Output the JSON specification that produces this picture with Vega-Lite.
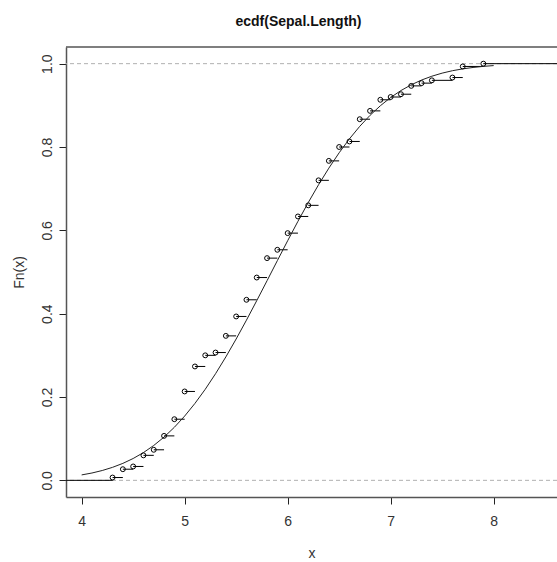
{
  "$schema": "https://vega.github.io/schema/vega-lite/v6.json",
  "autosize": {"type": "none"},
  "width": 491,
  "height": 450,
  "padding": {"left": 66, "top": 47, "right": 0, "bottom": 65},
  "background": "white",
  "config": {
    "view": {"stroke": null},
    "font": "Liberation Sans",
    "axis": {
      "grid": false,
      "domainColor": "#555",
      "domainWidth": 1.5,
      "tickColor": "#222",
      "tickSize": 7,
      "labelFont": "Liberation Sans",
      "labelFontSize": 14,
      "labelColor": "#333",
      "titleFont": "Liberation Sans",
      "titleFontSize": 14,
      "titleFontWeight": "normal",
      "titleColor": "#333"
    }
  },
  "title": {
    "text": "ecdf(Sepal.Length)",
    "font": "Liberation Sans",
    "fontSize": 14,
    "fontWeight": "bold",
    "color": "#111",
    "anchor": "middle",
    "baseline": "alphabetic",
    "offset": 6,
    "dx": -13
  },
  "datasets": {
    "steps": [
      {"x": 3.7, "x2": 4.3, "y": 0},
      {"x": 4.3, "x2": 4.4, "y": 0.0067},
      {"x": 4.4, "x2": 4.5, "y": 0.0267},
      {"x": 4.5, "x2": 4.6, "y": 0.0333},
      {"x": 4.6, "x2": 4.7, "y": 0.06},
      {"x": 4.7, "x2": 4.8, "y": 0.0733},
      {"x": 4.8, "x2": 4.9, "y": 0.1067},
      {"x": 4.9, "x2": 5.0, "y": 0.1467},
      {"x": 5.0, "x2": 5.1, "y": 0.2133},
      {"x": 5.1, "x2": 5.2, "y": 0.2733},
      {"x": 5.2, "x2": 5.3, "y": 0.3},
      {"x": 5.3, "x2": 5.4, "y": 0.3067},
      {"x": 5.4, "x2": 5.5, "y": 0.3467},
      {"x": 5.5, "x2": 5.6, "y": 0.3933},
      {"x": 5.6, "x2": 5.7, "y": 0.4333},
      {"x": 5.7, "x2": 5.8, "y": 0.4867},
      {"x": 5.8, "x2": 5.9, "y": 0.5333},
      {"x": 5.9, "x2": 6.0, "y": 0.5533},
      {"x": 6.0, "x2": 6.1, "y": 0.5933},
      {"x": 6.1, "x2": 6.2, "y": 0.6333},
      {"x": 6.2, "x2": 6.3, "y": 0.66},
      {"x": 6.3, "x2": 6.4, "y": 0.72},
      {"x": 6.4, "x2": 6.5, "y": 0.7667},
      {"x": 6.5, "x2": 6.6, "y": 0.8},
      {"x": 6.6, "x2": 6.7, "y": 0.8133},
      {"x": 6.7, "x2": 6.8, "y": 0.8667},
      {"x": 6.8, "x2": 6.9, "y": 0.8867},
      {"x": 6.9, "x2": 7.0, "y": 0.9133},
      {"x": 7.0, "x2": 7.1, "y": 0.92},
      {"x": 7.1, "x2": 7.2, "y": 0.9267},
      {"x": 7.2, "x2": 7.3, "y": 0.9467},
      {"x": 7.3, "x2": 7.4, "y": 0.9533},
      {"x": 7.4, "x2": 7.6, "y": 0.96},
      {"x": 7.6, "x2": 7.7, "y": 0.9667},
      {"x": 7.7, "x2": 7.9, "y": 0.9933},
      {"x": 7.9, "x2": 8.8, "y": 1.0}
    ],
    "curve": [
      {"x": 4.0, "p": 0.0130}, {"x": 4.1, "p": 0.0176}, {"x": 4.2, "p": 0.0236},
      {"x": 4.3, "p": 0.0312}, {"x": 4.4, "p": 0.0407}, {"x": 4.5, "p": 0.0524},
      {"x": 4.6, "p": 0.0666}, {"x": 4.7, "p": 0.0837}, {"x": 4.8, "p": 0.1038},
      {"x": 4.9, "p": 0.1273}, {"x": 5.0, "p": 0.1542}, {"x": 5.1, "p": 0.1847},
      {"x": 5.2, "p": 0.2186}, {"x": 5.3, "p": 0.2559}, {"x": 5.4, "p": 0.2962},
      {"x": 5.5, "p": 0.3392}, {"x": 5.6, "p": 0.3845}, {"x": 5.7, "p": 0.4313},
      {"x": 5.8, "p": 0.4791}, {"x": 5.9, "p": 0.5273}, {"x": 6.0, "p": 0.5750},
      {"x": 6.1, "p": 0.6217}, {"x": 6.2, "p": 0.6667}, {"x": 6.3, "p": 0.7094},
      {"x": 6.4, "p": 0.7493}, {"x": 6.5, "p": 0.7861}, {"x": 6.6, "p": 0.8196},
      {"x": 6.7, "p": 0.8496}, {"x": 6.8, "p": 0.8760}, {"x": 6.9, "p": 0.8990},
      {"x": 7.0, "p": 0.9188}, {"x": 7.1, "p": 0.9355}, {"x": 7.2, "p": 0.9493},
      {"x": 7.3, "p": 0.9607}, {"x": 7.4, "p": 0.9699}, {"x": 7.5, "p": 0.9773},
      {"x": 7.6, "p": 0.9831}, {"x": 7.7, "p": 0.9875}, {"x": 7.8, "p": 0.9909},
      {"x": 7.9, "p": 0.9935}, {"x": 8.0, "p": 0.9954}
    ],
    "hlines": [{"y": 0}, {"y": 1}]
  },
  "layer": [
    {
      "data": {"name": "hlines"},
      "mark": {"type": "rule", "color": "#b0b0b0", "strokeDash": [4, 3], "strokeWidth": 1},
      "encoding": {
        "y": {
          "field": "y", "type": "quantitative",
          "scale": {"domain": [-0.04, 1.04], "nice": false, "zero": false},
          "axis": {
            "title": "Fn(x)",
            "values": [0, 0.2, 0.4, 0.6, 0.8, 1.0],
            "format": ".1f",
            "labelAngle": -90,
            "labelAlign": "center",
            "labelBaseline": "bottom",
            "labelPadding": 5,
            "titlePadding": 14
          }
        }
      }
    },
    {
      "data": {"name": "steps"},
      "mark": {"type": "rule", "color": "#000", "strokeWidth": 1, "clip": true},
      "encoding": {
        "x": {
          "field": "x", "type": "quantitative",
          "scale": {"domain": [3.848, 8.615], "nice": false, "zero": false},
          "axis": {
            "title": "x",
            "values": [4, 5, 6, 7, 8],
            "format": "d",
            "labelPadding": 10,
            "titlePadding": 18
          }
        },
        "x2": {"field": "x2"},
        "y": {"field": "y", "type": "quantitative"}
      }
    },
    {
      "data": {"name": "curve"},
      "mark": {"type": "line", "color": "#222", "strokeWidth": 1, "clip": true},
      "encoding": {
        "x": {"field": "x", "type": "quantitative"},
        "y": {"field": "p", "type": "quantitative"}
      }
    },
    {
      "data": {"name": "steps"},
      "transform": [{"filter": "datum.x >= 4.3"}],
      "mark": {"type": "point", "shape": "circle", "filled": false, "color": "#000", "strokeWidth": 1, "size": 24, "opacity": 1},
      "encoding": {
        "x": {"field": "x", "type": "quantitative"},
        "y": {"field": "y", "type": "quantitative"}
      }
    },
    {
      "data": {"values": [{"top": 1.04}]},
      "mark": {"type": "rule", "color": "#555", "strokeWidth": 1.5},
      "encoding": {
        "y": {"field": "top", "type": "quantitative"}
      }
    }
  ]
}
